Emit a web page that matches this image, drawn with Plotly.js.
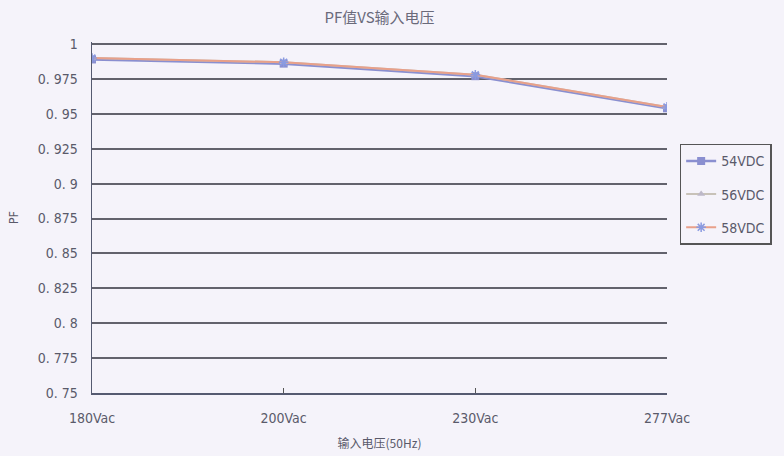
<!DOCTYPE html>
<html><head><meta charset="utf-8">
<script src="https://cdn.plot.ly/plotly-3.0.1.min.js"></script>
<style>body{margin:0;background:#f5f3fa}#c{width:784px;height:456px}</style>
</head><body><div id="c"></div>
<script>
const categories = ["180Vac", "200Vac", "230Vac", "277Vac"];
const seriesNames = ["54VDC", "56VDC", "58VDC"];
const pf54 = [0.989, 0.986, 0.977, 0.954];
const pf56 = [0.990, 0.987, 0.978, 0.955];
const pf58 = [0.990, 0.987, 0.978, 0.955];
const yTicks = [0.75, 0.775, 0.8, 0.825, 0.85, 0.875, 0.9, 0.925, 0.95, 0.975, 1];
const yTickText = ["0. 75","0. 775","0. 8","0. 825","0. 85","0. 875","0. 9","0. 925","0. 95","0. 975","1"];

const font = "'DejaVu Sans Condensed', 'Liberation Sans Narrow', 'Noto Sans CJK SC', sans-serif";
const traces = [
  {x: categories, y: pf54, name: seriesNames[0], legendgroup: "a", mode: "lines+markers",
   line: {color: "#8a8fd0", width: 2.5}, marker: {symbol: "square", size: 8, color: "#8a8fd0"}},
  {x: categories, y: pf56, name: seriesNames[1], legendgroup: "b", mode: "lines+markers",
   line: {color: "#c8c2b8", width: 2}, marker: {symbol: "triangle-up", size: 7, color: "#bdb8c8"}},
  {x: categories, y: pf58, name: seriesNames[2], legendgroup: "c", mode: "lines+markers",
   line: {color: "#e8a08a", width: 2}, marker: {symbol: "asterisk-open", size: 8, color: "#8a9ae0", line: {width: 1.5, color: "#8a9ae0"}}}
];
const layout = {
  width: 784, height: 456,
  paper_bgcolor: "#f5f3fa", plot_bgcolor: "#f5f3fa",
  margin: {l: 92, r: 114, t: 42, b: 63},
  font: {family: font, color: "#5a5a6a", size: 14},
  title: {text: "PF值VS输入电压", x: 0.5, xref: "paper", y: 0.962, yanchor: "middle",
          font: {family: "'Noto Sans CJK SC', sans-serif", size: 15, color: "#6a6a7a"}},
  xaxis: {type: "category", range: [0, 3], showgrid: false, zeroline: false,
          showline: true, linecolor: "#555a70", linewidth: 1.5,
          ticks: "inside", ticklen: 5, tickcolor: "#555",
          ticklabelstandoff: 12,
          tickfont: {size: 14, family: font, color: "#5a5a6a"},
          title: {text: "输入电压(50Hz)", standoff: 14, font: {family: "'Noto Sans CJK SC', sans-serif", size: 12, color: "#5a5a6a"}}},
  yaxis: {range: [0.75, 1.0015], tickvals: yTicks, ticktext: yTickText,
          showgrid: true, gridcolor: "#62626c", gridwidth: 2, zeroline: false,
          showline: true, linecolor: "#555a70", linewidth: 1.5,
          ticks: "", ticklabelstandoff: 10,
          tickfont: {size: 14, family: font, color: "#5a5a6a"},
          title: {text: "PF", standoff: 16, font: {size: 12, family: font, color: "#5a5a6a"}}},
  showlegend: true,
  legend: {x: 1.022, xanchor: "left", y: 0.71, yanchor: "top",
           bgcolor: "#f5f3fa", bordercolor: "#555", borderwidth: 1.5,
           font: {size: 14, family: font, color: "#5a5a6a"}, tracegroupgap: 12, itemwidth: 30}
};
Plotly.newPlot("c", traces, layout, {displayModeBar: false, staticPlot: true});
</script></body></html>
